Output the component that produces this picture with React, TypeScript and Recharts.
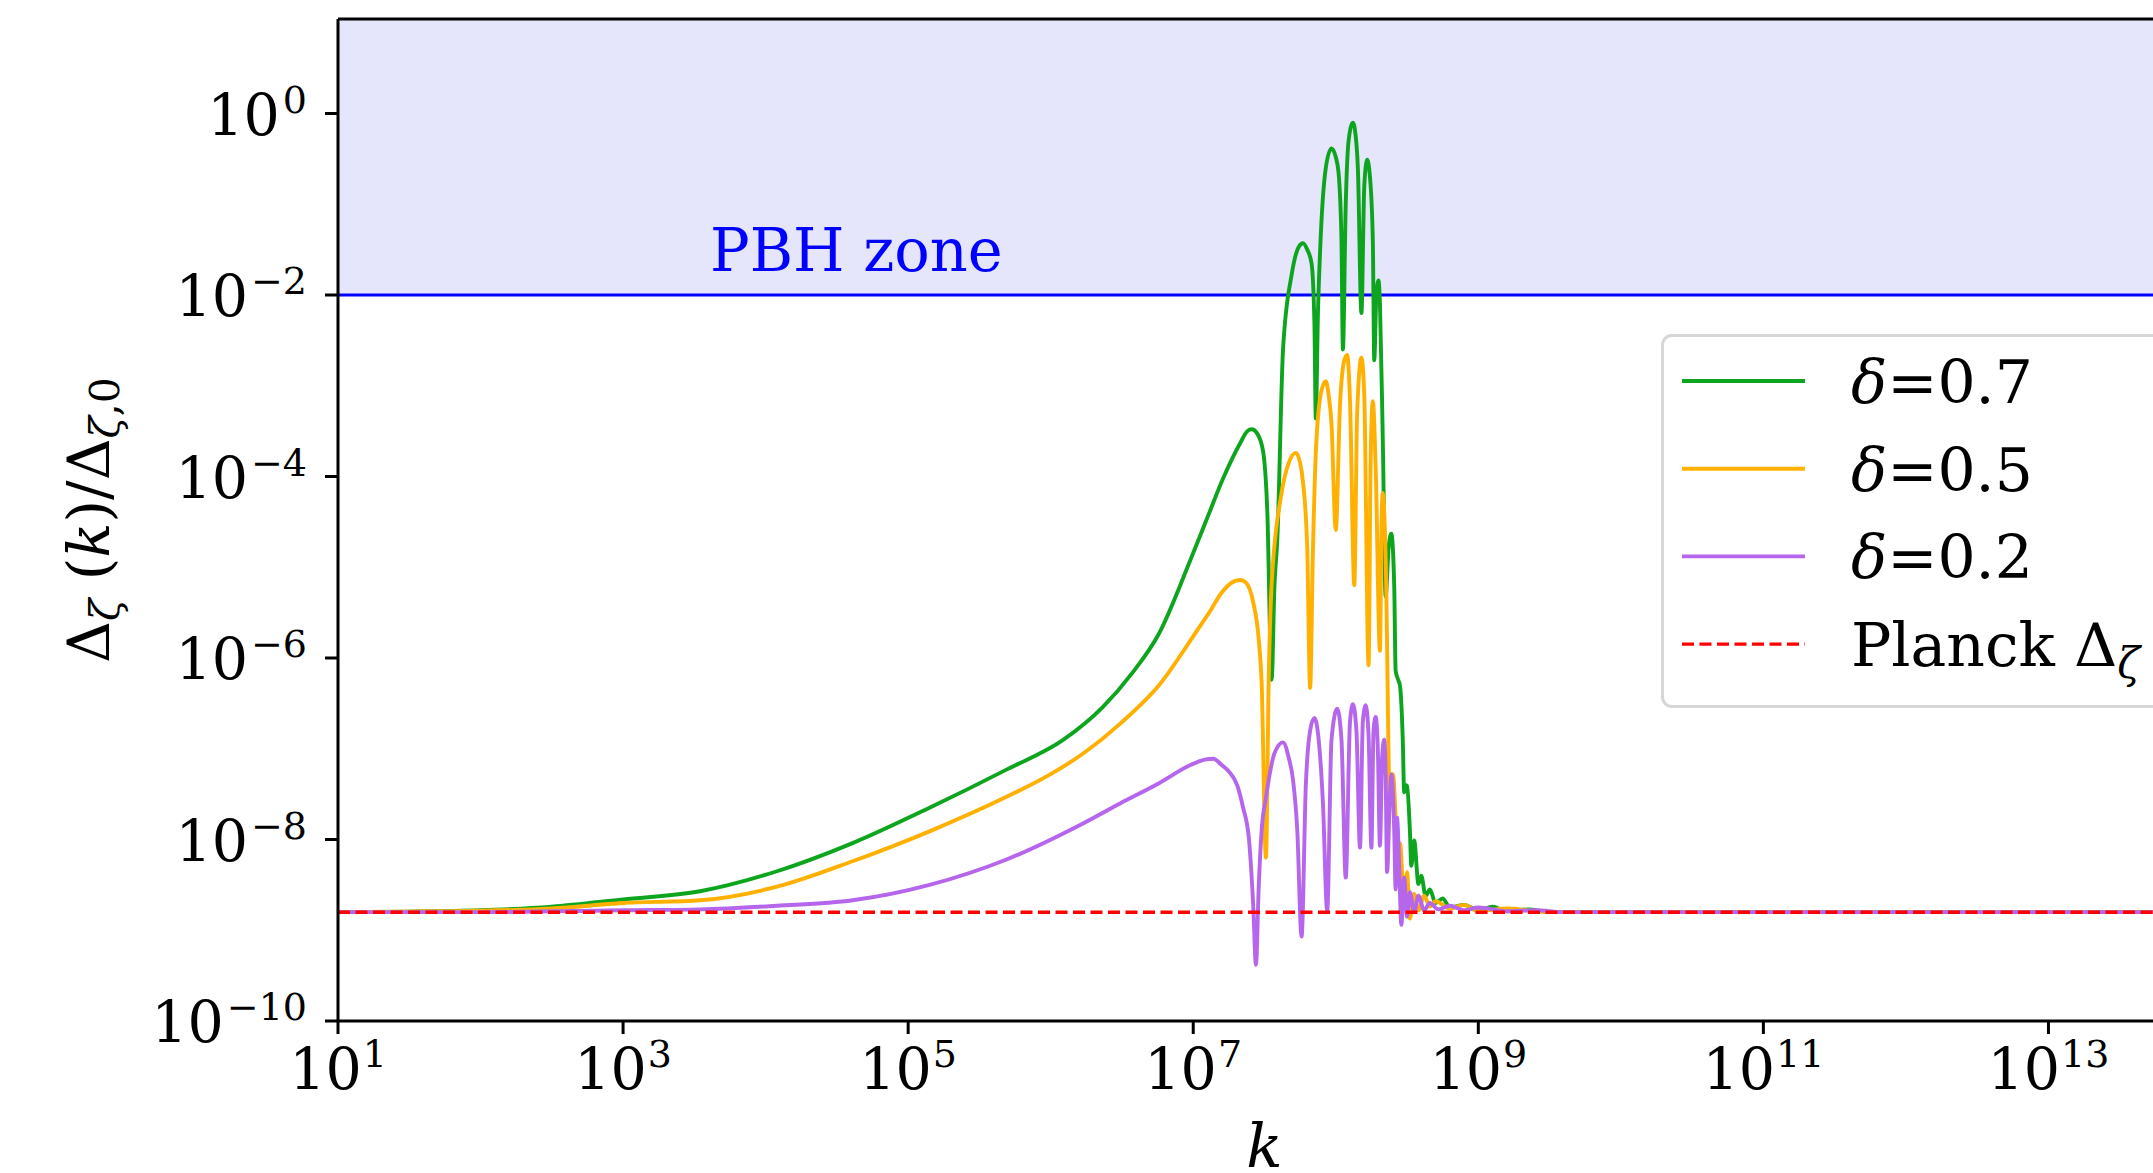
import React from 'react';
import { LineChart, Line, XAxis, YAxis, ReferenceArea, ReferenceLine, ReferenceDot, Legend } from 'recharts';

// ---------- data ----------
const X_TICK_EXPONENTS = [1, 3, 5, 7, 9, 11, 13];
const Y_TICK_EXPONENTS = [-10, -8, -6, -4, -2, 0];
const K_MIN = 10;
const K_MAX = 1e14;
const Y_MIN = 1e-10;
const Y_MAX = 11;
const PBH_THRESHOLD = 1e-2;
const PLANCK_LEVEL = 1.58e-9;
const PBH_LABEL_TEXT = 'PBH zone';
const PBH_LABEL_K = 4.07e3;
const PBH_LABEL_Y = 1.86e-2;

// pairs of [log10 k, log10 Δζ/Δζ,0]
const DELTA_07: [number, number][] = [
  [1.0, -8.8], [1.5, -8.795], [2.0, -8.78], [2.5, -8.74], [3.0, -8.66], [3.54, -8.57], [4.08, -8.35],
  [4.61, -8.04], [5.15, -7.65], [5.69, -7.23], [6.09, -6.9], [6.36, -6.55], [6.57, -6.17], [6.76, -5.73],
  [6.98, -4.92], [7.1, -4.45], [7.21, -4.02], [7.33, -3.63], [7.38, -3.5], [7.41, -3.48], [7.45, -3.53],
  [7.49, -3.72], [7.52, -4.4], [7.55, -6.24], [7.57, -5.2], [7.59, -4.69], [7.63, -2.6], [7.69, -1.78],
  [7.74, -1.47], [7.77, -1.43], [7.8, -1.5], [7.83, -1.65], [7.85, -2.3], [7.86, -3.36], [7.875, -2.2],
  [7.89, -1.52], [7.93, -0.6], [7.97, -0.385], [8.0, -0.48], [8.02, -0.66], [8.04, -1.4], [8.05, -2.6],
  [8.07, -1.0], [8.09, -0.3], [8.12, -0.1], [8.14, -0.25], [8.155, -0.6], [8.18, -2.2], [8.2, -0.8],
  [8.22, -0.51], [8.24, -0.7], [8.26, -1.4], [8.27, -2.72], [8.285, -2.0], [8.3, -1.84], [8.31, -2.1],
  [8.33, -3.6], [8.35, -5.32], [8.37, -4.8], [8.39, -4.63], [8.41, -5.2], [8.42, -6.14], [8.44, -6.25],
  [8.45, -6.3], [8.47, -6.9], [8.48, -7.48], [8.49, -7.4], [8.5, -7.41], [8.52, -7.9], [8.53, -8.29],
  [8.55, -8.01], [8.58, -8.49], [8.6, -8.4], [8.63, -8.62], [8.66, -8.55], [8.7, -8.7], [8.75, -8.65],
  [8.8, -8.75], [8.9, -8.72], [9.0, -8.78], [9.1, -8.74], [9.2, -8.79], [9.35, -8.77], [9.5, -8.8],
  [10.0, -8.8], [14.0, -8.8],
];

const DELTA_05: [number, number][] = [
  [1.0, -8.8], [2.0, -8.785], [2.5, -8.76], [3.0, -8.7], [3.54, -8.67], [4.08, -8.52], [4.61, -8.24],
  [5.15, -7.91], [5.69, -7.53], [6.0, -7.28], [6.23, -7.05], [6.49, -6.72], [6.76, -6.3], [7.03, -5.69],
  [7.12, -5.48], [7.19, -5.3], [7.26, -5.18], [7.33, -5.14], [7.37, -5.17], [7.42, -5.38], [7.46, -5.8],
  [7.48, -6.27], [7.51, -8.2], [7.53, -6.2], [7.55, -5.19], [7.62, -4.18], [7.67, -3.85], [7.72, -3.74],
  [7.75, -3.85], [7.77, -4.06], [7.8, -4.8], [7.82, -6.33], [7.84, -4.8], [7.86, -3.74], [7.9, -3.05],
  [7.93, -2.95], [7.95, -3.1], [7.97, -3.42], [8.0, -4.59], [8.03, -3.2], [8.06, -2.72], [8.08, -2.66],
  [8.1, -3.17], [8.13, -5.2], [8.15, -3.3], [8.18, -2.69], [8.2, -3.1], [8.23, -6.08], [8.245, -3.8],
  [8.26, -3.17], [8.28, -3.9], [8.31, -5.92], [8.32, -4.6], [8.33, -4.18], [8.35, -4.9], [8.38, -7.6],
  [8.39, -7.35], [8.4, -7.28], [8.42, -7.8], [8.43, -8.36], [8.45, -8.04], [8.47, -8.5], [8.48, -8.74],
  [8.5, -8.36], [8.52, -8.87], [8.55, -8.6], [8.58, -8.78], [8.62, -8.62], [8.66, -8.74], [8.7, -8.68],
  [8.8, -8.76], [8.9, -8.72], [9.0, -8.79], [9.2, -8.76], [9.4, -8.79], [9.6, -8.8], [14.0, -8.8],
];

const DELTA_02: [number, number][] = [
  [1.0, -8.8], [2.0, -8.8], [3.0, -8.78], [3.54, -8.77], [4.08, -8.73], [4.61, -8.67], [5.15, -8.5],
  [5.69, -8.22], [6.23, -7.82], [6.49, -7.6], [6.76, -7.38], [6.98, -7.18], [7.08, -7.12],
  [7.14, -7.11], [7.2, -7.18], [7.25, -7.25], [7.31, -7.41], [7.35, -7.65], [7.39, -7.98], [7.42, -8.7],
  [7.44, -9.38], [7.46, -8.5], [7.48, -7.9], [7.51, -7.54], [7.57, -7.05], [7.63, -6.93], [7.67, -7.1],
  [7.7, -7.34], [7.73, -7.9], [7.76, -9.07], [7.79, -7.4], [7.82, -6.8], [7.85, -6.66], [7.88, -6.9],
  [7.91, -7.6], [7.94, -8.79], [7.97, -6.9], [8.01, -6.56], [8.04, -6.9], [8.07, -8.42], [8.1, -6.7],
  [8.12, -6.51], [8.145, -6.8], [8.17, -8.09], [8.19, -6.7], [8.21, -6.52], [8.23, -6.85], [8.25, -8.09],
  [8.265, -6.8], [8.28, -6.65], [8.295, -7.0], [8.31, -8.07], [8.325, -7.1], [8.34, -6.9], [8.35, -7.3],
  [8.36, -8.36], [8.38, -7.5], [8.39, -7.28], [8.41, -7.9], [8.42, -8.55], [8.43, -7.76], [8.445, -8.3],
  [8.46, -8.94], [8.48, -8.42], [8.5, -8.85], [8.52, -8.58], [8.55, -8.8], [8.58, -8.62], [8.62, -8.78],
  [8.66, -8.7], [8.72, -8.77], [8.8, -8.73], [8.9, -8.78], [9.0, -8.75], [9.2, -8.79], [9.4, -8.78],
  [9.6, -8.8], [14.0, -8.8],
];

const SERIES_NAMES = ['δ=0.7', 'δ=0.5', 'δ=0.2', 'Planck Δζ'];
const SERIES_COLORS = ['#0ea51e', '#ffb000', '#b566ec', '#ff0000'];

// ---------- derived ----------
const X_TICKS = X_TICK_EXPONENTS.map((e) => 10 ** e);
const Y_TICKS = Y_TICK_EXPONENTS.map((e) => 10 ** e);
const toPoints = (arr: [number, number][]) => arr.map(([lk, lv]) => ({ k: 10 ** lk, v: 10 ** lv }));
const SERIES_DATA = [
  toPoints(DELTA_07),
  toPoints(DELTA_05),
  toPoints(DELTA_02),
  [{ k: K_MIN, v: PLANCK_LEVEL }, { k: K_MAX, v: PLANCK_LEVEL }],
];

const FONT = '"DejaVu Serif", serif';
const TICK_FS = 57;
const SUP_FS = 38;
const LW = 3.9;
const DASH_LW = 3.4;
const DASH = '12 5.5';

const expText = (v: number) => {
  const e = Math.round(Math.log10(v));
  return e < 0 ? '\u2212' + Math.abs(e) : String(e);
};

const XTick = (props: any) => {
  const { x, y, payload } = props;
  return (
    <text x={x} y={y + 45} textAnchor="middle" fontFamily={FONT} fontSize={TICK_FS} fill="#000">
      <tspan>10</tspan>
      <tspan fontSize={SUP_FS} dx={1} dy={-22}>{expText(payload.value)}</tspan>
    </text>
  );
};

const YTick = (props: any) => {
  const { x, y, payload } = props;
  return (
    <text x={x} y={y + 21} textAnchor="end" fontFamily={FONT} fontSize={TICK_FS} fill="#000">
      <tspan>10</tspan>
      <tspan fontSize={SUP_FS} dx={3} dy={-22}>{expText(payload.value)}</tspan>
    </text>
  );
};

const renderXLabel = (props: any) => {
  const vb = props.viewBox || {};
  return (
    <text x={vb.x + vb.width / 2} y={vb.y + 146} textAnchor="middle" fontFamily={FONT} fontSize={60} fontStyle="italic" fill="#000">
      k
    </text>
  );
};

const renderYLabel = (props: any) => {
  const vb = props.viewBox || {};
  const cx = vb.x + 109;
  const cy = vb.y + vb.height / 2;
  return (
    <text x={cx} y={cy} textAnchor="middle" fontFamily={FONT} fontSize={58} fill="#000" transform={`rotate(-90, ${cx}, ${cy})`}>
      <tspan>Δ</tspan>
      <tspan fontSize={41} fontStyle="italic" dy={10}>ζ</tspan>
      <tspan dy={-10}>{'\u00a0('}</tspan>
      <tspan fontStyle="italic">k</tspan>
      <tspan>)/Δ</tspan>
      <tspan fontSize={41} fontStyle="italic" dy={10}>ζ</tspan>
      <tspan fontSize={41}>,0</tspan>
    </text>
  );
};

const renderPBH = (props: any) => {
  const vb = props.viewBox || {};
  return (
    <text x={vb.x} y={vb.y} fontFamily={FONT} fontSize={59} fill="#0000ff">
      {PBH_LABEL_TEXT}
    </text>
  );
};

const LegendLabel = ({ label }: { label: string }) => {
  if (label.startsWith('δ')) {
    return (
      <>
        <tspan fontStyle="italic">δ</tspan>
        <tspan>{label.slice(1)}</tspan>
      </>
    );
  }
  const idx = label.indexOf('Δ');
  return (
    <>
      <tspan>{label.slice(0, idx + 1)}</tspan>
      <tspan fontStyle="italic" fontSize={42} dy={12}>{label.slice(idx + 1)}</tspan>
    </>
  );
};

const LEG_W = 515;
const LEG_H = 374;

const renderLegend = () => (
  <div
    style={{
      boxSizing: 'border-box',
      width: LEG_W,
      height: LEG_H,
      border: '3px solid #d6d6d6',
      borderRadius: 11,
      background: 'rgba(255,255,255,0.8)',
      position: 'relative',
    }}
  >
    <svg width={LEG_W} height={LEG_H} style={{ position: 'absolute', left: -3, top: -3 }}>
      {SERIES_NAMES.map((name, i) => {
        const cy = 47 + i * 87.7;
        return (
          <g key={name}>
            <line x1={21} x2={144} y1={cy} y2={cy} stroke={SERIES_COLORS[i]} strokeWidth={i === 3 ? DASH_LW : LW} strokeDasharray={i === 3 ? DASH : undefined} />
            <text x={190} y={cy + 22} fontFamily={FONT} fontSize={60} fill="#000">
              <LegendLabel label={name} />
            </text>
          </g>
        );
      })}
    </svg>
  </div>
);

export default function App() {
  return (
    <div style={{ position: 'fixed', left: 0, top: 0, width: 2153, height: 1173, overflow: 'hidden', background: '#fff' }}>
      <LineChart width={2260} height={1173} margin={{ top: 19, right: 69, bottom: 0, left: 0 }}>
        <XAxis
          dataKey="k"
          type="number"
          scale="log"
          domain={[K_MIN, K_MAX]}
          ticks={X_TICKS}
          interval={0}
          allowDataOverflow
          height={152}
          tickSize={13}
          tickMargin={10}
          axisLine={{ stroke: '#000', strokeWidth: 3 }}
          tickLine={{ stroke: '#000', strokeWidth: 3 }}
          tick={(p: any) => <XTick {...p} />}
          label={renderXLabel}
        />
        <YAxis
          type="number"
          scale="log"
          domain={[Y_MIN, Y_MAX]}
          ticks={Y_TICKS}
          interval={0}
          allowDataOverflow
          width={338}
          tickSize={13}
          tickMargin={18}
          axisLine={{ stroke: '#000', strokeWidth: 3 }}
          tickLine={{ stroke: '#000', strokeWidth: 3 }}
          tick={(p: any) => <YTick {...p} />}
          label={renderYLabel}
        />
        <ReferenceArea y1={PBH_THRESHOLD} y2={Y_MAX} fill="#e5e5fc" fillOpacity={1} stroke="none" ifOverflow="hidden" />
        <ReferenceLine y={PBH_THRESHOLD} stroke="#0000ff" strokeWidth={3.2} />
        <ReferenceLine y={Y_MAX} stroke="#000" strokeWidth={3} />
        <ReferenceLine x={K_MAX} stroke="#000" strokeWidth={3} />
        {SERIES_DATA.map((d, i) => (
          <Line
            key={SERIES_NAMES[i]}
            name={SERIES_NAMES[i]}
            data={d}
            dataKey="v"
            type={i === 3 ? 'linear' : 'monotoneX'}
            stroke={SERIES_COLORS[i]}
            strokeWidth={i === 3 ? DASH_LW : LW}
            strokeDasharray={i === 3 ? DASH : undefined}
            dot={false}
            activeDot={false}
            isAnimationActive={false}
          />
        ))}
        <ReferenceDot x={PBH_LABEL_K} y={PBH_LABEL_Y} r={0} fill="none" stroke="none" label={renderPBH} />
        <Legend
          layout="vertical"
          align="center"
          verticalAlign="middle"
          wrapperStyle={{ left: 1661, top: 334, width: LEG_W, height: LEG_H }}
          content={renderLegend}
        />
      </LineChart>
    </div>
  );
}
